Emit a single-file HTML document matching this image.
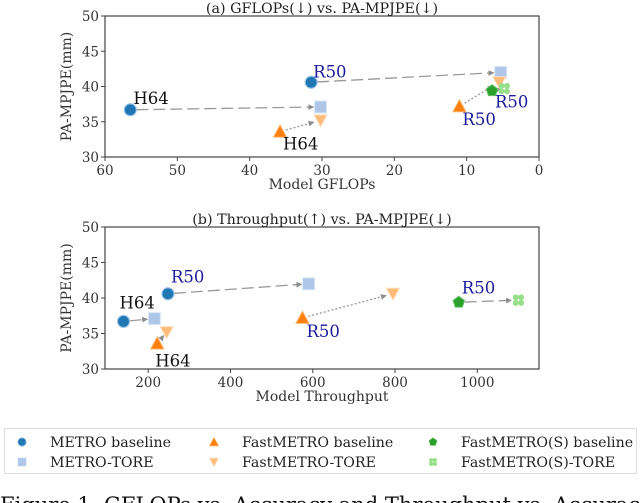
<!DOCTYPE html>
<html><head><meta charset="utf-8"><style>
body{margin:0;background:#fff;width:640px;height:503px;overflow:hidden;position:relative}
svg{position:absolute;left:0;top:0}
text{font-family:"DejaVu Serif","Liberation Serif",serif}
</style></head><body>
<svg id="s" width="640" height="503">
<defs><marker id="ah" viewBox="0 0 10 10" refX="9" refY="5" markerWidth="4.5" markerHeight="4.5" orient="auto"><path d="M0,0L10,5L0,10z" fill="#8c8c8c"/></marker></defs>
</svg>
<script>
// Panel (a)
const gflopsBase = [56.5, 31.5, 35.8, 11.0, 6.5];
const gflopsTore = [30.2, 5.3, 30.2, 5.5, 4.8];
// Panel (b)
const tputBase = [140, 248, 222, 575, 955];
const tputTore = [215, 590, 245, 795, 1100];
// shared y values
const errBase = [36.7, 40.6, 33.6, 37.2, 39.4];
const errTore = [37.1, 42.0, 35.2, 40.6, 39.7];
const kinds = ['metro','metro','fast','fast','fasts'];
const backbones = ['H64','R50','H64','R50','R50'];
const yTicks = [30,35,40,45,50];
const xTicksA = [60,50,40,30,20,10,0];
const xTicksB = [200,400,600,800,1000];
const legendLabels = [['METRO baseline','METRO-TORE'],['FastMETRO baseline','FastMETRO-TORE'],['FastMETRO(S) baseline','FastMETRO(S)-TORE']];

const NS='http://www.w3.org/2000/svg';
const svg=document.getElementById('s');
function el(tag,attrs,parent,txt){const e=document.createElementNS(NS,tag);for(const k in attrs)e.setAttribute(k,attrs[k]);if(txt!==undefined)e.textContent=txt;(parent||svg).appendChild(e);return e;}

const col={metro:['#1f77b4','#aec7e8'],fast:['#ff7f0e','#ffbb78'],fasts:['#2ca02c','#98df8a']};
function marker(g,kind,tore,x,y){
  const c=col[kind][tore?1:0];
  let m;
  if(kind==='metro'){
    if(!tore){m=el('circle',{cx:x,cy:y,r:6,fill:c,stroke:'#9cc3e6','stroke-width':1.2},g);}
    else m=el('rect',{x:x-6,y:y-6,width:12,height:12,fill:c,stroke:'#dbe7f5','stroke-width':1},g);
  }else if(kind==='fast'){
    const p=tore?`${x-6.5},${y-5.5} ${x+6.5},${y-5.5} ${x},${y+6.5}`:`${x-6.5},${y+5.5} ${x+6.5},${y+5.5} ${x},${y-6.5}`;
    m=el('polygon',{points:p,fill:c,stroke:tore?'#ffe0c0':'#ffb060','stroke-width':1},g);
  }else{
    if(!tore){let p=[];for(let i=0;i<5;i++){const a=-Math.PI/2+i*2*Math.PI/5;p.push((x+6*Math.cos(a)).toFixed(1)+','+(y+6*Math.sin(a)).toFixed(1));}
      m=el('polygon',{points:p.join(' '),fill:c,stroke:'#60c060','stroke-width':1},g);}
    else {m=el('g',{},g);for(const [dx,dy] of [[-2.7,-2.7],[2.7,-2.7],[-2.7,2.7],[2.7,2.7]])el('circle',{cx:x+dx,cy:y+dy,r:3,fill:c},m);}
  }
  return m;
}

function panel(name,L,R,T,B,xmin,xmax,xTicks,bx,tx,title,xlabel,lblOff){
  const g=el('g',{},svg);
  
  
  const X=v=>L+(v-xmin)/(xmax-xmin)*(R-L);
  const Y=v=>B-(v-30)/(50-30)*(B-T);
  el('rect',{x:L,y:T,width:R-L,height:B-T,fill:'none',stroke:'#444','stroke-width':1.2},g);
  const t=el('text',{x:(L+R)/2,y:T-3,'text-anchor':'middle','font-size':14.3,fill:'#222'},g,title);
  
  yTicks.forEach(v=>{el('line',{x1:L-4,x2:L,y1:Y(v),y2:Y(v),stroke:'#444'},g);
    el('text',{x:L-6,y:Y(v)+5,'text-anchor':'end','font-size':13.5,fill:'#333'},g,v);});
  xTicks.forEach(v=>{el('line',{x1:X(v),x2:X(v),y1:B,y2:B+4,stroke:'#444'},g);
    el('text',{x:X(v),y:B+18,'text-anchor':'middle','font-size':13.5,fill:'#333'},g,v);});
  const xl=el('text',{x:(L+R)/2,y:B+32,'text-anchor':'middle','font-size':14,fill:'#333'},g,xlabel);
  
  const yl=el('text',{x:0,y:0,'text-anchor':'middle','font-size':14,fill:'#333',transform:`translate(${L-34},${(T+B)/2}) rotate(-90)`},g,'PA-MPJPE(mm)');
  
  for(let i=0;i<bx.length;i++){
    const x1=X(bx[i]),y1=Y(errBase[i]),x2=X(tx[i]),y2=Y(errTore[i]);
    const dx=x2-x1,dy=y2-y1,d=Math.hypot(dx,dy),sh=Math.min(7,d*0.3);
    const dash=kinds[i]==='fast'?'2,2':'12,5';
    const a=el('line',{x1:x1+dx/d*6,y1:y1+dy/d*6,x2:x2-dx/d*sh,y2:y2-dy/d*sh,stroke:'#999','stroke-width':1.3,'stroke-dasharray':dash,'marker-end':'url(#ah)'},g);
    
    const m1=marker(g,kinds[i],false,x1,y1);
    
    const m2=marker(g,kinds[i],true,x2,y2);
    
    const o=lblOff[i];
    const lb=el('text',{x:x1+o[0],y:y1+o[1],'font-size':16.5,fill:backbones[i]==='R50'?'#1a1a9a':'#111'},g,backbones[i]);
    
  }
}
panel('panel-gflops',105,539,16,157,60,0,xTicksA,gflopsBase,gflopsTore,'(a) GFLOPs(↓) vs. PA-MPJPE(↓)','Model GFLOPs',
  [[3,-6],[2,-5],[3,18],[3,19],[3,17]]);
panel('panel-throughput',105,539,227,369,95,1150,xTicksB,tputBase,tputTore,'(b) Throughput(↑) vs. PA-MPJPE(↓)','Model Throughput',
  [[-4,-13],[3,-11],[-2,23],[4,19],[3,-9]]);

// legend
const lg=el('g',{},svg);

el('rect',{x:4.5,y:428.5,width:632,height:45,fill:'#fff',stroke:'#ddd'},lg);
const lk=['metro','fast','fasts'],lx=[22,214,433];
for(let c=0;c<3;c++)for(let r=0;r<2;r++){
  const y=442+r*20;
  const e=el('g',{},lg);
  
  const m=marker(e,lk[c],r===1,lx[c],y);
  m.setAttribute('transform',`translate(${lx[c]},${y}) scale(0.7) translate(${-lx[c]},${-y})`);
  el('text',{x:lx[c]+28,y:y+5,'font-size':14.2,fill:'#222'},e,legendLabels[c][r]);
}
const cap=el('text',{x:0,y:512,'font-size':21,fill:'#111','font-family':'Liberation Serif, serif'},svg,'Figure 1. GFLOPs vs. Accuracy and Throughput vs. Accuracy');

</script>
</body></html>
